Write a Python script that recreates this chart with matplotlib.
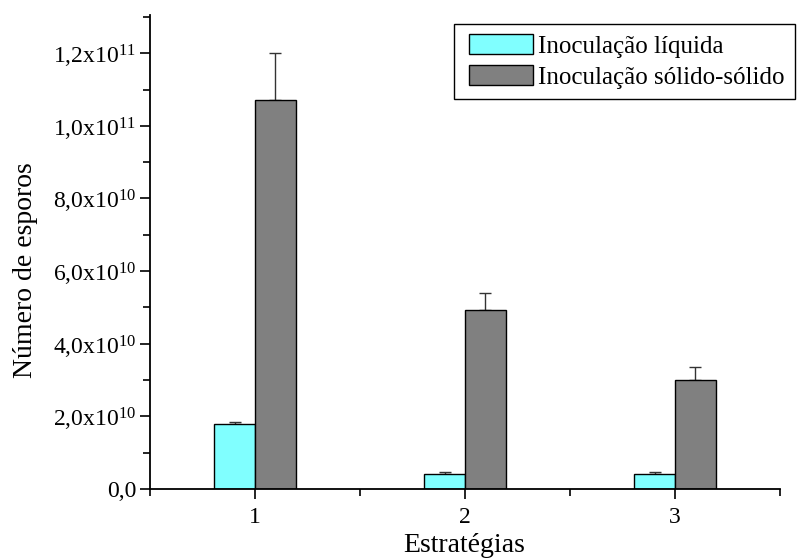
import matplotlib
matplotlib.use("Agg")
import matplotlib.pyplot as plt
import numpy as np
from matplotlib.ticker import FixedLocator, MultipleLocator
from matplotlib.path import Path

plt.rcParams['font.family'] = ['Liberation Serif', 'DejaVu Serif']
plt.rcParams['mathtext.fontset'] = 'custom'
plt.rcParams['mathtext.rm'] = 'Liberation Serif'
plt.rcParams['mathtext.it'] = 'Liberation Serif:italic'

strategies = [1, 2, 3]
liquida = [1.80e10, 0.40e10, 0.40e10]
liquida_err = [0.04e10, 0.06e10, 0.06e10]
solido = [1.07e11, 4.93e10, 3.00e10]
solido_err = [1.30e10, 0.47e10, 0.36e10]
ytick_vals = [0, 2e10, 4e10, 6e10, 8e10, 1.0e11, 1.2e11]
ytick_labels = ['0,0', r'2,0x10$^{10}$', r'4,0x10$^{10}$', r'6,0x10$^{10}$',
                r'8,0x10$^{10}$', r'1,0x10$^{11}$', r'1,2x10$^{11}$']

fig = plt.figure(figsize=(8.02, 5.58), dpi=100)
ax = fig.add_axes([0.187, 0.1237, 0.7856, 0.8493])

x = np.array(strategies, dtype=float)
w = 0.195
ax.bar(x - w/2, liquida, w, color='#80FFFF', edgecolor='black', linewidth=1.0,
       label='Inoculação líquida', zorder=2)
ax.bar(x + w/2, solido, w, color='#808080', edgecolor='black', linewidth=1.0,
       label='Inoculação sólido-sólido', zorder=2)
ax.errorbar(x - w/2, liquida, yerr=[np.zeros(3), liquida_err], fmt='none',
            ecolor='#333333', elinewidth=1.0, capsize=4, capthick=1.0, zorder=1)
ax.errorbar(x + w/2, solido, yerr=[np.zeros(3), solido_err], fmt='none',
            ecolor='#333333', elinewidth=1.0, capsize=4, capthick=1.0, zorder=1)

ax.set_xlim(0.5, 3.5)
ax.set_ylim(0, 1.305e11)
ax.set_xticks(strategies)
ax.set_xticklabels([str(s) for s in strategies])
ax.xaxis.set_minor_locator(FixedLocator([0.5, 1.5, 2.5, 3.5]))
ax.set_yticks(ytick_vals)
ax.set_yticklabels(ytick_labels)
ax.yaxis.set_minor_locator(MultipleLocator(1e10))

for s in ['top', 'right']:
    ax.spines[s].set_visible(False)
for s in ['left', 'bottom']:
    ax.spines[s].set_linewidth(1.3)

ax.tick_params(axis='both', which='major', direction='out', length=7, width=1.2)
ax.tick_params(axis='y', which='major', labelsize=17, pad=3)
ax.tick_params(axis='x', which='major', labelsize=17, pad=6)
ax.tick_params(axis='both', which='minor', direction='out', length=5, width=1.2)

ax.set_xlabel('Estratégias', fontsize=20)
ax.xaxis.set_label_coords(0.499, -0.092)
ax.set_ylabel('Número de esporos', fontsize=20)
ax.yaxis.set_label_coords(-0.178, 0.462)


def wide_box(x0, y0, width, height, mutation_size):
    pl = 0.2 * mutation_size
    x1 = x0 + width
    y1 = y0 + height
    return Path([(x0 - pl, y0), (x1, y0), (x1, y1), (x0 - pl, y1),
                 (x0 - pl, y0)], closed=True)


leg = ax.legend(loc='upper right', bbox_to_anchor=(1.023, 0.981), fontsize=18,
                frameon=True, fancybox=False, edgecolor='black', framealpha=1,
                handlelength=2.56, handleheight=0.85, handletextpad=0.2,
                borderpad=0.4, labelspacing=0.3, borderaxespad=0)
leg.get_frame().set_linewidth(1.0)
leg.get_frame().set_boxstyle(wide_box)

fig.savefig('out.png', dpi=100)
